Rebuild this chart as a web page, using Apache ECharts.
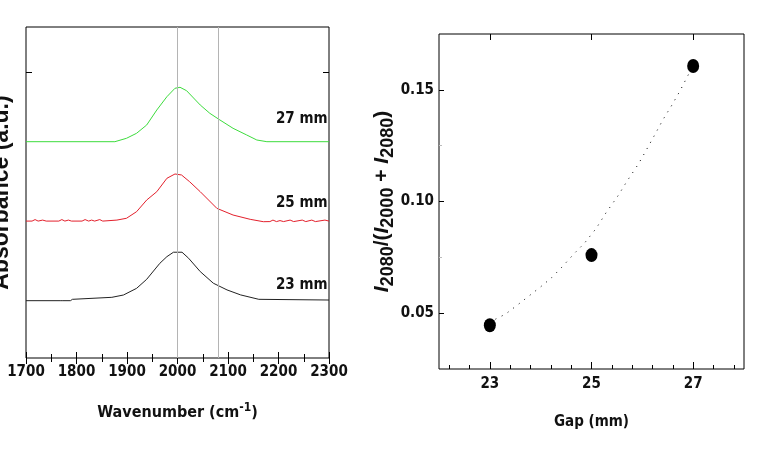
<!DOCTYPE html>
<html><head><meta charset="utf-8">
<script src="https://cdn.jsdelivr.net/npm/echarts@6/dist/echarts.min.js"></script>
<style>html,body{margin:0;padding:0;background:#fff}#c{width:769px;height:461px}</style>
</head><body><div id="c"></div>
<script>
// ---- Left panel: IR spectra (offset, arbitrary units) ----
const wn27  = [1700,1876,1899,1919,1939,1959,1979,1995,2005,2018,2045,2064,2084,2110,2137,2157,2177,2300];
const abs27 = [4.313,4.313,4.381,4.481,4.646,4.945,5.210,5.378,5.398,5.330,5.045,4.879,4.746,4.580,4.447,4.347,4.313,4.313];

const wn25  = [1700,1712,1718,1724,1733,1740,1765,1771,1777,1784,1790,1811,1817,1824,1830,1836,1846,1852,1880,1899,1919,1939,1959,1979,1995,2008,2024,2045,2078,2110,2144,2170,2183,2189,2196,2203,2210,2223,2230,2247,2254,2266,2273,2292,2300];
const abs25 = [2.73,2.73,2.76,2.73,2.75,2.73,2.73,2.76,2.73,2.75,2.73,2.73,2.76,2.73,2.75,2.73,2.76,2.73,2.75,2.786,2.918,3.150,3.316,3.583,3.669,3.649,3.515,3.316,2.984,2.851,2.765,2.718,2.72,2.75,2.72,2.74,2.72,2.75,2.72,2.75,2.72,2.75,2.72,2.75,2.73];

const wn23  = [1700,1769,1771,1773,1788,1792,1870,1893,1919,1939,1965,1979,1992,2009,2022,2045,2071,2098,2125,2161,2300];
const abs23 = [1.143,1.143,1.18,1.143,1.143,1.170,1.210,1.256,1.389,1.569,1.888,2.021,2.109,2.109,1.989,1.723,1.491,1.358,1.258,1.170,1.156];

const refLines = [2000, 2080];
const specLabels = ['27 mm', '25 mm', '23 mm'];
const labelPos = [[2246, 4.77], [2246, 3.09], [2246, 1.46]];
const leftYTicks = [5.7];

// ---- Right panel: intensity ratio vs gap ----
const gap   = [23, 25, 27];
const ratio = [0.0446, 0.0760, 0.1607];
const fitX  = [23.11,23.31,23.54,23.77,24.00,24.22,24.43,24.66,24.86,25.09,25.29,25.52,25.69,25.92,26.05,26.25,26.41,26.58,26.74,26.91,27.0];
const fitY  = [0.0473,0.0496,0.0536,0.0577,0.0618,0.0660,0.0709,0.0767,0.0813,0.0879,0.0951,0.1025,0.1088,0.1167,0.1219,0.1301,0.1368,0.1431,0.1495,0.1570,0.1600];
const gapTicks = [23, 25, 27];
const gapMinorTicks = [22.2,22.6,23.4,23.8,24.2,24.6,25.4,25.8,26.2,26.6,27.4,27.8];
const ratioTicks = [0.05, 0.10, 0.15];
const ratioMinorTicks = [0.075, 0.125];

const NARROW = "'Liberation Sans Narrow','Arial Narrow','DejaVu Sans Condensed',sans-serif";
const SANS = "'Liberation Sans',Arial,sans-serif";
const zip = (a, b) => a.map((v, i) => [v, b[i]]);

const chart = echarts.init(document.getElementById('c'), null, {renderer: 'canvas'});
const lblStyle = {fontFamily: NARROW, fontSize: 15, fontWeight: 'bold', color: '#111'};

function specSeries(x, y, color, idx) {
  return {
    type: 'line', xAxisIndex: 0, yAxisIndex: 0, data: zip(x, y),
    showSymbol: false, symbol: 'none', lineStyle: {color: color, width: 1}, itemStyle: {color: color},
    z: 3,
    markPoint: {
      symbol: 'circle', symbolSize: 1, itemStyle: {color: 'rgba(0,0,0,0)'},
      label: Object.assign({show: true, position: 'inside', formatter: specLabels[idx]}, lblStyle),
      data: [{coord: labelPos[idx]}]
    }
  };
}

const option = {
  animation: false,
  backgroundColor: '#fff',
  grid: [
    {left: 26, top: 27, width: 303, height: 331, show: true, borderColor: '#000', borderWidth: 1, backgroundColor: 'transparent', outerBoundsMode: 'none', containLabel: false},
    {left: 439, top: 34, width: 305, height: 335, show: true, borderColor: '#000', borderWidth: 1, backgroundColor: 'transparent', outerBoundsMode: 'none', containLabel: false}
  ],
  xAxis: [
    {gridIndex: 0, type: 'value', min: 1700, max: 2300, interval: 100, position: 'bottom',
     axisLine: {show: false}, splitLine: {show: false},
     axisTick: {inside: true, length: 6, lineStyle: {color: '#000'}},
     minorTick: {show: true, splitNumber: 2, length: 4, lineStyle: {color: '#000'}},
     minorSplitLine: {show: false},
     axisLabel: Object.assign({margin: 7, formatter: v => String(v)}, lblStyle),
     name: '{n|Wavenumber (cm}{s|-1}{n|)}', nameLocation: 'middle', nameGap: 44,
     nameTextStyle: {rich: {
       n: {fontFamily: NARROW, fontSize: 16, fontWeight: 'bold', color: '#111'},
       s: {fontFamily: NARROW, fontSize: 12, fontWeight: 'bold', color: '#111', padding: [0, 0, 10, 0]}
     }}},
    {gridIndex: 0, type: 'value', min: 1700, max: 2300, interval: 100, position: 'top',
     axisLine: {show: false}, splitLine: {show: false},
     axisTick: {inside: true, length: 6, lineStyle: {color: '#000'}},
     minorTick: {show: true, splitNumber: 2, length: 4, lineStyle: {color: '#000'}},
     axisLabel: {show: false}},
    {gridIndex: 1, type: 'value', min: 22, max: 28, position: 'bottom',
     axisLine: {show: false}, splitLine: {show: false},
     axisTick: {inside: true, length: 7, customValues: gapTicks, lineStyle: {color: '#000'}},
     axisLabel: Object.assign({margin: 8, customValues: gapTicks}, lblStyle),
     name: 'Gap (mm)', nameLocation: 'middle', nameGap: 46,
     nameTextStyle: {fontFamily: NARROW, fontSize: 15, fontWeight: 'bold', color: '#111'}},
    {gridIndex: 1, type: 'value', min: 22, max: 28, position: 'bottom',
     axisLine: {show: false}, splitLine: {show: false},
     axisTick: {inside: true, length: 4, customValues: gapMinorTicks, lineStyle: {color: '#000'}},
     axisLabel: {show: false}},
    {gridIndex: 1, type: 'value', min: 22, max: 28, position: 'top',
     axisLine: {show: false}, splitLine: {show: false},
     axisTick: {inside: true, length: 6, customValues: gapTicks, lineStyle: {color: '#000'}},
     axisLabel: {show: false}}
  ],
  yAxis: [
    {gridIndex: 0, type: 'value', min: 0, max: 6.6, position: 'left',
     axisLine: {show: false}, splitLine: {show: false},
     axisTick: {inside: true, length: 6, customValues: leftYTicks, lineStyle: {color: '#000'}},
     axisLabel: {show: false},
     name: 'Absorbance (a.u.)', nameLocation: 'middle', nameGap: 13,
     nameTextStyle: {fontFamily: SANS, fontSize: 23, fontWeight: 'bold', color: '#111'}},
    {gridIndex: 0, type: 'value', min: 0, max: 6.6, position: 'right',
     axisLine: {show: false}, splitLine: {show: false},
     axisTick: {inside: true, length: 6, customValues: leftYTicks, lineStyle: {color: '#000'}},
     axisLabel: {show: false}},
    {gridIndex: 1, type: 'value', min: 0.025, max: 0.175, position: 'left',
     axisLine: {show: false}, splitLine: {show: false},
     axisTick: {inside: true, length: 5, customValues: ratioTicks, lineStyle: {color: '#000'}},
     axisLabel: Object.assign({margin: 5, customValues: ratioTicks, formatter: v => v.toFixed(2)}, lblStyle),
     name: '{i|I}{s|2080}{n|/(}{i|I}{s|2000}{n| + }{i|I}{s|2080}{n|)}',
     nameLocation: 'middle', nameGap: 34,
     nameTextStyle: {rich: {
       i: {fontFamily: SANS, fontSize: 21, fontWeight: 'bold', fontStyle: 'italic', color: '#111'},
       n: {fontFamily: SANS, fontSize: 21, fontWeight: 'bold', color: '#111'},
       s: {fontFamily: SANS, fontSize: 18, fontWeight: 'bold', color: '#111', padding: [12, 0, 0, 0]}
     }}},
    {gridIndex: 1, type: 'value', min: 0.025, max: 0.175, position: 'left',
     axisLine: {show: false}, splitLine: {show: false},
     axisTick: {inside: true, length: 3, customValues: ratioMinorTicks, lineStyle: {color: '#bbb'}},
     axisLabel: {show: false}}
  ],
  series: [
    {type: 'line', xAxisIndex: 0, yAxisIndex: 0, data: [], silent: true, z: 1,
     markLine: {silent: true, symbol: 'none', label: {show: false},
       lineStyle: {color: '#b4b4b4', width: 1, type: 'solid'},
       data: refLines.map(v => ({xAxis: v}))}},
    specSeries(wn27, abs27, '#3ddc3d', 0),
    specSeries(wn25, abs25, '#e3202c', 1),
    specSeries(wn23, abs23, '#222222', 2),
    {type: 'line', xAxisIndex: 2, yAxisIndex: 2, data: zip(fitX, fitY), showSymbol: false, symbol: 'none',
     lineStyle: {color: '#000', width: 1, type: [1, 6]}, z: 2},
    {type: 'scatter', xAxisIndex: 2, yAxisIndex: 2, data: zip(gap, ratio), symbol: 'circle',
     symbolSize: [12, 14], itemStyle: {color: '#000', opacity: 1}, z: 3}
  ]
};
chart.setOption(option);
</script></body></html>
